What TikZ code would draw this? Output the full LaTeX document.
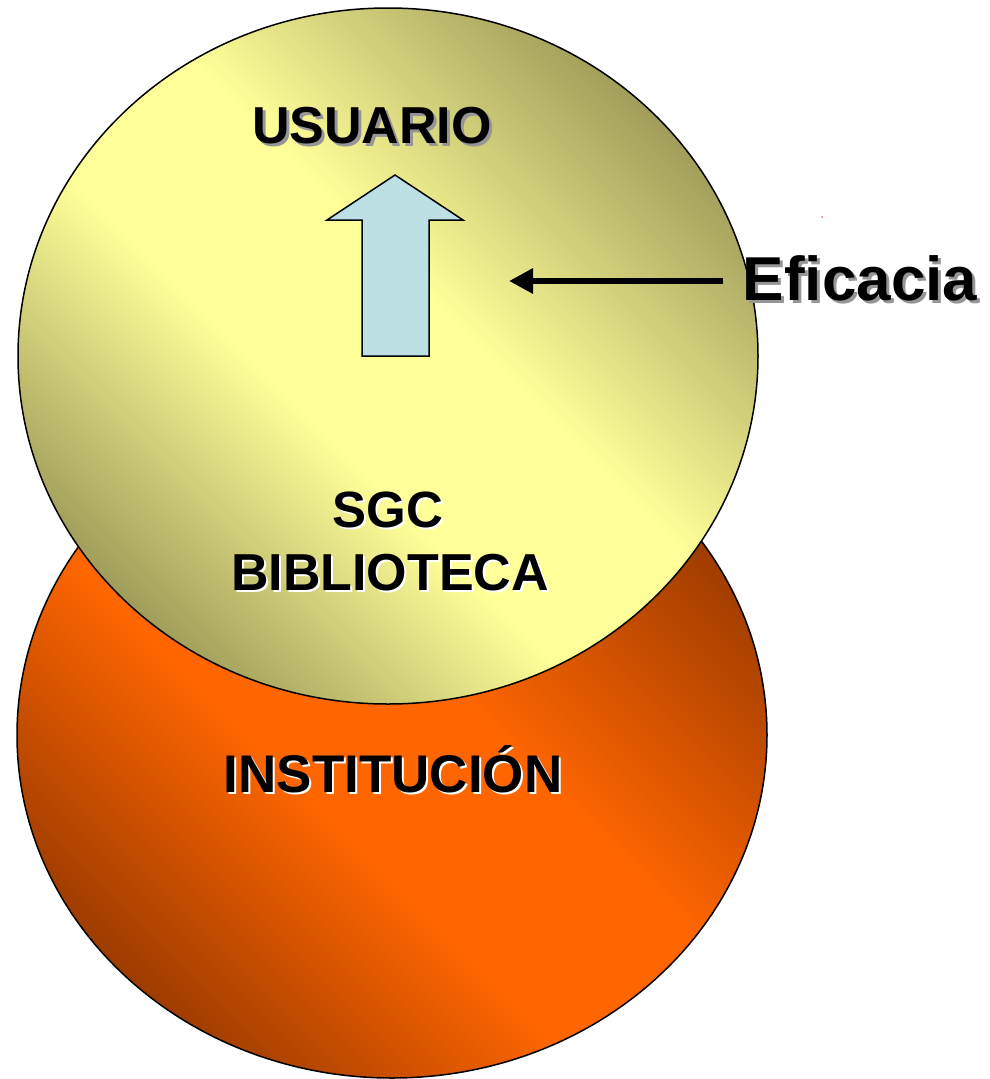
\documentclass[tikz,border=0pt]{standalone}
\usepackage{fontspec}
\setmainfont{Liberation Sans}
\usetikzlibrary{arrows.meta}
\definecolor{ylight}{RGB}{255,255,153}
\definecolor{ydark}{RGB}{160,158,90}
\definecolor{olight}{RGB}{255,102,0}
\definecolor{odark}{RGB}{158,60,0}
\definecolor{arrowblue}{RGB}{189,224,229}
\definecolor{shadowgray}{RGB}{150,150,150}
\pgfdeclareverticalshading{yshade}{100bp}{color(0bp)=(ydark); color(25bp)=(ydark); color(43bp)=(ylight); color(55bp)=(ylight); color(75bp)=(ydark); color(100bp)=(ydark)}
\pgfdeclareverticalshading{oshade}{100bp}{color(0bp)=(odark); color(25bp)=(odark); color(43bp)=(olight); color(55bp)=(olight); color(75bp)=(odark); color(100bp)=(odark)}
\newcommand{\dropshadow}[3]{{\leavevmode\rlap{\hskip#2\raisebox{-#2}{\color{#1}#3}}#3}}
\tikzset{
  disc/.style={draw=black, line width=1.5pt, shading=#1, shading angle=-45},
  lbl/.style={font=\bfseries\fontsize{#1}{#1}\selectfont, inner sep=0pt, anchor=base, text=black},
  blockarrow/.style={draw=black, line width=1.5pt, fill=arrowblue, line join=miter},
  effline/.style={line width=6pt, -{Triangle[length=24pt,width=24pt]}}
}
\begin{document}
\begin{tikzpicture}[x=1pt,y=1pt]
\fill[white] (0,0) rectangle (990,-1079);
\useasboundingbox (0,0) rectangle (990,-1079);

% circles
\shade[disc=oshade] (392,-735) ellipse [x radius=375, y radius=343];
\shade[disc=yshade] (388,-356) ellipse [x radius=370, y radius=348];

% block arrow
\draw[blockarrow] (362,-356) -- (362,-220) -- (327,-220) -- (395,-175) -- (463,-220) -- (429,-220) -- (429,-356) -- cycle;

% texts
\node[lbl=52] (usuario) at (372,-143) {\dropshadow{shadowgray}{3pt}{USUARIO}};
\node[lbl=51] (sgc) at (388,-527) {\dropshadow{white}{2pt}{SGC}};
\node[lbl=52] (bib) at (390,-590) {\dropshadow{white}{2pt}{BIBLIOTECA}};
\node[lbl=53] (inst) at (393,-792) {\dropshadow{white}{2pt}{INSTITUCIÓN}};
\node[lbl=62] (eff) at (860,-300) {\dropshadow{shadowgray}{3pt}{Eficacia}};

% connector
\coordinate (efftip) at (509,-281);
\draw[effline] ([xshift=-20pt]eff.west |- efftip) -- (efftip);

% speck
\fill[red!60] (822,-217) circle (1);
\end{tikzpicture}
\end{document}
